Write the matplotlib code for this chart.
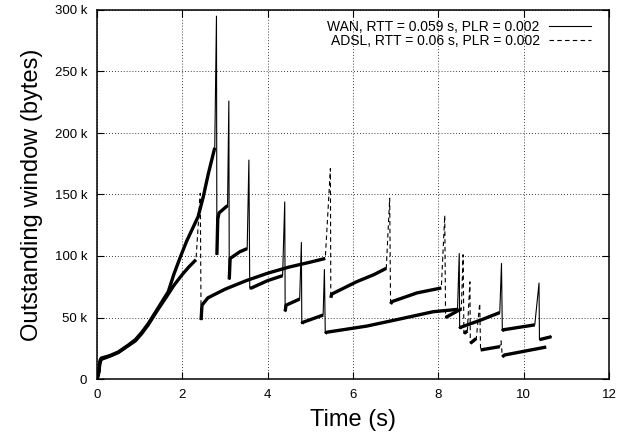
"""Outstanding window over time for a WAN and an ADSL path (gnuplot-style)."""
import matplotlib
matplotlib.use("Agg")
import matplotlib.pyplot as plt
from matplotlib.ticker import FuncFormatter, MultipleLocator

plt.rcParams["font.family"] = ["Liberation Sans", "DejaVu Sans"]

# values in kbytes; each segment is a growth phase, peaks sit between segments
wan_segments = [
    [(0.0, 0), (0.03, 4), (0.05, 6), (0.07, 15), (0.1, 17), (0.3, 19), (0.5, 22),
     (0.73, 27.5), (0.9, 32), (1.05, 38), (1.2, 45), (1.4, 56), (1.67, 71),
     (1.8, 85), (1.94, 98), (2.1, 112), (2.37, 132), (2.49, 148), (2.61, 167),
     (2.76, 188)],
    [(2.81, 101), (2.83, 130), (2.86, 135), (3.06, 141)],
    [(3.10, 81), (3.12, 98), (3.35, 103.5), (3.52, 106)],
    [(3.58, 74), (3.62, 74), (4.0, 80), (4.35, 84)],
    [(4.41, 55), (4.43, 60), (4.75, 65)],
    [(4.80, 45), (4.82, 46), (5.30, 52)],
    [(5.35, 37), (5.38, 38), (6.32, 43), (7.1, 48.8), (7.88, 54.7), (8.45, 56.6)],
    [(8.50, 41), (8.52, 42), (9.0, 48), (9.44, 54)],
    [(9.50, 39), (9.52, 40), (10.26, 44)],
    [(10.37, 32), (10.65, 34.4)],
]
wan_peaks = [(2.80, 295), (3.09, 226), (3.56, 178), (4.40, 144), (4.79, 111),
             (5.33, 89), (8.49, 102), (9.48, 94), (10.36, 78)]

adsl_segments = [
    [(0.0, 0), (0.03, 3), (0.06, 12), (0.1, 16), (0.3, 18.5), (0.5, 21.5),
     (0.73, 27), (0.9, 31), (1.05, 37), (1.2, 44), (1.4, 55), (1.67, 69),
     (1.8, 76), (2.0, 85), (2.15, 91), (2.32, 97)],
    [(2.44, 48), (2.46, 60), (2.6, 66), (3.0, 73), (3.5, 80), (4.0, 86),
     (4.5, 91), (5.0, 95), (5.35, 98)],
    [(5.48, 66), (5.5, 69), (6.08, 79), (6.5, 85), (6.78, 90)],
    [(6.88, 61), (6.92, 63), (7.5, 70), (8.07, 74)],
    [(8.17, 50), (8.54, 57)],
    [(8.60, 37), (8.68, 39)],
    [(8.75, 29), (8.89, 33)],
    [(8.99, 23.6), (9.44, 26.3)],
    [(9.50, 18), (9.55, 19.5), (10.53, 26)],
]
adsl_peaks = [(2.42, 151), (5.47, 171), (6.86, 147), (8.15, 133), (8.58, 101),
              (8.74, 79), (8.97, 61.5), (9.47, 31)]

wan_label = "WAN, RTT = 0.059 s, PLR = 0.002"
adsl_label = "ADSL, RTT = 0.06 s, PLR = 0.002"


def full_path(segments, peaks):
    pts = []
    for i, seg in enumerate(segments):
        pts.extend(seg)
        if i < len(peaks):
            pts.append(peaks[i])
    return [p[0] for p in pts], [p[1] * 1000 for p in pts]


fig = plt.figure(figsize=(6.31, 4.36), dpi=100)
ax = fig.add_axes([97 / 631, 57 / 436, 512 / 631, 369 / 436])

dash = (0, (4, 3))
for segs, peaks, label, ls in [(wan_segments, wan_peaks, wan_label, "-"),
                               (adsl_segments, adsl_peaks, adsl_label, dash)]:
    xs, ys = full_path(segs, peaks)
    ax.plot(xs, ys, color="black", lw=0.8, linestyle=ls, label=label)
    for seg in segs:  # dense ack-level sawtooth shows up as a thick band
        ax.plot([p[0] for p in seg], [p[1] * 1000 for p in seg],
                color="black", lw=2.4, solid_capstyle="butt")

ax.set_xlim(0, 12)
ax.set_ylim(0, 300000)
ax.xaxis.set_major_locator(MultipleLocator(2))
ax.yaxis.set_major_locator(MultipleLocator(50000))
ax.yaxis.set_major_formatter(FuncFormatter(lambda v, _: "0" if v == 0 else f"{int(v / 1000)} k"))
ax.tick_params(direction="in", top=True, right=True, length=5, width=0.8,
               labelsize=9.5, pad=7)
ax.grid(True, color="black", lw=0.6, linestyle=(0, (1, 2.5)))
for s in ax.spines.values():
    s.set_linewidth(1.1)

ax.set_xlabel("Time (s)", fontsize=17)
ax.set_ylabel("Outstanding window (bytes)", fontsize=17)
ax.xaxis.set_label_coords(0.5, -0.082)
ax.yaxis.set_label_coords(-0.105, 0.5)

ax.legend(loc="upper right", bbox_to_anchor=(0.984, 1.0), frameon=False,
          markerfirst=False, fontsize=10, handlelength=3.0, handletextpad=0.7,
          labelspacing=0.0, borderaxespad=0.3)

fig.savefig("out.png", dpi=100)
